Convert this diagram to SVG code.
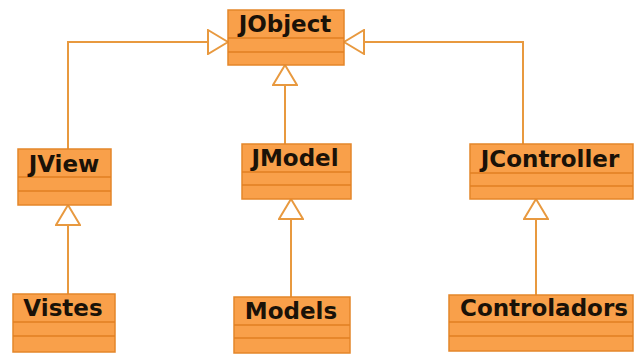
<svg xmlns="http://www.w3.org/2000/svg" width="636" height="354" viewBox="0 0 636 354">
<style>
.box{fill:#F9A04A;stroke:#E4862A;stroke-width:1.5}
.div{stroke:#E07F22;stroke-width:1.5}
.lbl{font-family:"DejaVu Sans",sans-serif;font-weight:bold;font-size:23px;fill:#1a1208;text-anchor:middle}
.con{fill:none;stroke:#E8993F;stroke-width:2}
</style>
<defs>
<marker id="gen" viewBox="0 0 22 26" refX="21" refY="13" markerWidth="22" markerHeight="26" orient="auto" markerUnits="userSpaceOnUse">
<path d="M1,1 L21,13 L1,25 Z" fill="#fff" stroke="#E8993F" stroke-width="2"/>
</marker>
</defs>
<rect width="636" height="354" fill="#fff"/>
<g id="connectors">
<path class="con" d="M68,149 V42 H228" marker-end="url(#gen)"/>
<path class="con" d="M523,144 V42 H344" marker-end="url(#gen)"/>
<path class="con" d="M285,144 V65" marker-end="url(#gen)"/>
<path class="con" d="M68,294 V205" marker-end="url(#gen)"/>
<path class="con" d="M291,297 V199" marker-end="url(#gen)"/>
<path class="con" d="M536,295 V199" marker-end="url(#gen)"/>
</g>
<g id="JObject">
<rect class="box" x="228" y="10" width="116" height="55"/>
<line class="div" x1="228" y1="38" x2="344" y2="38"/>
<line class="div" x1="228" y1="52" x2="344" y2="52"/>
<text class="lbl" x="285" y="32">JObject</text>
</g>
<g id="JView">
<rect class="box" x="18" y="149" width="93" height="56"/>
<line class="div" x1="18" y1="177" x2="111" y2="177"/>
<line class="div" x1="18" y1="191" x2="111" y2="191"/>
<text class="lbl" x="64" y="172">JView</text>
</g>
<g id="JModel">
<rect class="box" x="242" y="144" width="109" height="55"/>
<line class="div" x1="242" y1="172" x2="351" y2="172"/>
<line class="div" x1="242" y1="185" x2="351" y2="185"/>
<text class="lbl" x="295" y="166">JModel</text>
</g>
<g id="JController">
<rect class="box" x="470" y="144" width="163" height="55"/>
<line class="div" x1="470" y1="173" x2="633" y2="173"/>
<line class="div" x1="470" y1="186" x2="633" y2="186"/>
<text class="lbl" x="550" y="167">JController</text>
</g>
<g id="Vistes">
<rect class="box" x="13" y="294" width="102" height="58"/>
<line class="div" x1="13" y1="322" x2="115" y2="322"/>
<line class="div" x1="13" y1="336" x2="115" y2="336"/>
<text class="lbl" x="63" y="316">Vistes</text>
</g>
<g id="Models">
<rect class="box" x="234" y="297" width="116" height="56"/>
<line class="div" x1="234" y1="325" x2="350" y2="325"/>
<line class="div" x1="234" y1="338" x2="350" y2="338"/>
<text class="lbl" x="291" y="319">Models</text>
</g>
<g id="Controladors">
<rect class="box" x="449" y="295" width="184" height="56"/>
<line class="div" x1="449" y1="322" x2="633" y2="322"/>
<line class="div" x1="449" y1="336" x2="633" y2="336"/>
<text class="lbl" x="544" y="316">Controladors</text>
</g>
</svg>
